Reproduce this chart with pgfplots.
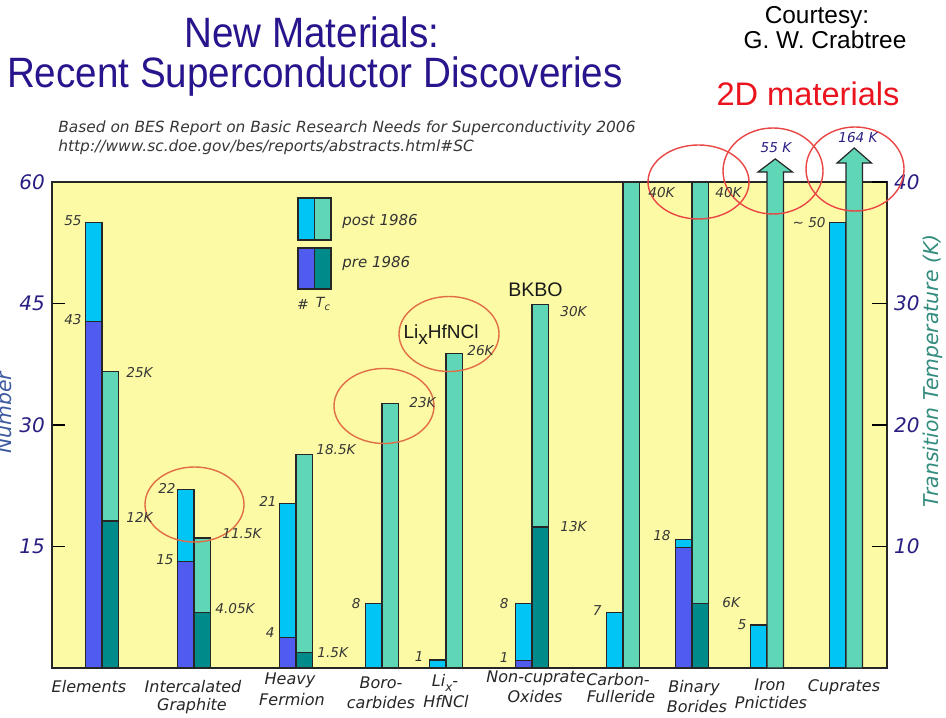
\documentclass[border=0pt]{standalone}
\usepackage{fontspec}
\setmainfont{Liberation Sans}
\newfontfamily\cs{DejaVu Sans}
\usepackage{graphicx}
\usepackage{pgfplots}
\pgfplotsset{compat=1.18}
\definecolor{numPost}{RGB}{0,197,245}
\definecolor{numPre}{RGB}{80,92,240}
\definecolor{tcPost}{RGB}{95,214,182}
\definecolor{tcPre}{RGB}{0,138,138}
\definecolor{bgY}{RGB}{252,250,165}
\definecolor{navy}{RGB}{40,30,130}
\definecolor{titleNavy}{RGB}{40,20,140}
\definecolor{labGray}{RGB}{55,55,55}
\definecolor{teal2}{RGB}{50,140,125}
\definecolor{blueLab}{RGB}{60,90,160}
\definecolor{ellO}{RGB}{225,110,70}
\definecolor{ellR}{RGB}{235,70,70}
\definecolor{redT}{RGB}{235,20,30}
\tikzset{
 bl/.style={font=\cs\itshape\fontsize{6.8}{7}\selectfont, text=labGray, inner sep=0pt},
 cat/.style={font=\cs\itshape\fontsize{8}{9}\selectfont, text=black!85, inner sep=0pt},
 ell/.style={line width=0.7pt},
 leg/.style={draw=black!85, line width=0.6pt},
}
\pgfplotsset{
 barN/.style={ybar, bar width=16.5, bar shift=0pt, draw=black!85, line width=0.6pt},
 common/.style={at={(26pt,24.5pt)}, anchor=south west, scale only axis,
   width=417.5pt, height=243pt, xmin=52, xmax=887, clip=false,
   tick align=inside, tick style={black, line width=0.7pt},
   yticklabel style={font=\cs\itshape\fontsize{10}{12}\selectfont, text=navy},
   /pgf/number format/assume math mode=true},
}
\begin{document}
\begin{tikzpicture}[x=0.5pt,y=0.5pt]
\useasboundingbox (0,0) rectangle (946,717);
\fill[white] (0,0) rectangle (946,717);
% ---- left axis: number of superconductors
\begin{axis}[common, ymin=0, ymax=60, xtick=\empty, ytick={15,30,45,60}, ytick pos=left,
 major tick length=6.5pt,
 axis background/.style={fill=bgY}, axis line style={black!85, line width=0.7pt}]
\addplot[barN, fill=numPost] coordinates {(93.75,55) (185.75,22) (287.75,20.3) (373.75,8) (437.75,1) (523.75,8) (614.75,6.9) (683.75,15.9) (758.75,5.3) (837.75,55)};
\addplot[barN, fill=numPre] coordinates {(93.75,42.8) (185.75,13.1) (287.75,3.8) (523.75,0.9) (683.75,14.9)};
\end{axis}
% ---- right axis: transition temperature
\begin{axis}[common, ymin=0, ymax=40, axis x line=none, axis y line*=right, ytick={10,20,30,40},
 major tick length=7.5pt, axis line style={draw=none}]
\addplot[barN, fill=tcPost] coordinates {(110.25,24.4) (202.25,10.7) (304.25,17.6) (390.25,21.8) (454.25,25.9) (540.25,29.9) (631.25,40) (700.25,40)};
\addplot[barN, fill=tcPre] coordinates {(110.25,12.1) (202.25,4.6) (304.25,1.3) (540.25,11.6) (700.25,5.3)};
\addplot[fill=tcPost, draw=black!85, line width=0.6pt] coordinates {(767,0) (767,40.82) (758,40.82) (775.25,41.9) (792.5,40.82) (783.5,40.82) (783.5,0)} -- cycle;
\addplot[fill=tcPost, draw=black!85, line width=0.6pt] coordinates {(846,0) (846,41.56) (837,41.56) (854.25,42.8) (871.5,41.56) (862.5,41.56) (862.5,0)} -- cycle;
\end{axis}
% ---- annotations in pixel coordinates (y downward)
\begin{scope}[shift={(0,717)}, yscale=-1]
% ellipses
\draw[ellO, ell] (194.5,504.5) ellipse [x radius=49.5, y radius=37.5];
\draw[ellO, ell] (384,406) ellipse [x radius=50, y radius=37.5];
\draw[ellO, ell] (449,334) ellipse [x radius=50, y radius=37.5];
\draw[ellR, ell] (698.5,182) ellipse [x radius=50.5, y radius=37];
\draw[ellR, ell] (773,171) ellipse [x radius=50, y radius=43];
\draw[ellR, ell] (855,169) ellipse [x radius=49, y radius=42];
% titles
\node[anchor=base, text=titleNavy, inner sep=0pt, font=\fontsize{19.3}{22}\selectfont] at (312,48) {\scalebox{1}[1.1]{New Materials:}};
\node[anchor=base, text=titleNavy, inner sep=0pt, font=\fontsize{19.3}{22}\selectfont] at (315,88) {\scalebox{1}[1.1]{Recent Superconductor Discoveries}};
\node[anchor=base, inner sep=0pt, font=\fontsize{12.2}{14}\selectfont] at (817,24) {Courtesy:};
\node[anchor=base, inner sep=0pt, font=\fontsize{12.2}{14}\selectfont] at (825,49) {G. W. Crabtree};
\node[anchor=base, inner sep=0pt, text=redT, font=\fontsize{16.3}{18}\selectfont] at (808,106) {2D materials};
\node[anchor=base west, inner sep=0pt, text=labGray, font=\cs\itshape\fontsize{7.7}{9}\selectfont] at (58,133) {Based on BES Report on Basic Research Needs for Superconductivity 2006};
\node[anchor=base west, inner sep=0pt, text=labGray, font=\cs\itshape\fontsize{7.7}{9}\selectfont] at (58,152) {http://www.sc.doe.gov/bes/reports/abstracts.html\#SC};
% axis titles
\node[rotate=90, anchor=south, inner sep=0pt, text=blueLab, font=\cs\itshape\fontsize{10.2}{12}\selectfont] at (12,413) {Number};
\node[rotate=90, inner sep=0pt, text=teal2, font=\cs\itshape\fontsize{10.2}{12}\selectfont] at (933,371) {Transition Temperature (K)};
% legend
\draw[leg, fill=numPost] (298,198) rectangle (314.5,240);
\draw[leg, fill=tcPost] (314.5,198) rectangle (331,240);
\draw[leg, fill=numPre] (298,248) rectangle (314.5,289);
\draw[leg, fill=tcPre] (314.5,248) rectangle (331,289);
\node[anchor=west, inner sep=0pt, text=black!80, font=\cs\itshape\fontsize{7.5}{9}\selectfont] at (342,222) {post 1986};
\node[anchor=west, inner sep=0pt, text=black!80, font=\cs\itshape\fontsize{7.5}{9}\selectfont] at (342,263) {pre 1986};
\node[inner sep=0pt, text=black!80, font=\cs\itshape\fontsize{7}{8}\selectfont] at (303,304) {\#};
\node[inner sep=0pt, text=black!80, font=\cs\itshape\fontsize{7}{8}\selectfont] at (323,304) {T\raisebox{-0.4ex}{\fontsize{5}{6}\selectfont c}};
% compound labels
\node[anchor=base, inner sep=0pt, text=black!90, font=\fontsize{9.8}{11}\selectfont] at (535.5,297) {BKBO};
\node[anchor=base, inner sep=0pt, text=black!90, font=\fontsize{9.5}{11}\selectfont] at (441,339) {Li\raisebox{-0.5ex}{x}HfNCl};
% number labels
\node[bl, anchor=east] at (82,221) {55};
\node[bl, anchor=east] at (82,320) {43};
\node[bl, anchor=east] at (176,488) {22};
\node[bl, anchor=east] at (174,560) {15};
\node[bl, anchor=east] at (277,501) {21};
\node[bl, anchor=east] at (275,633) {4};
\node[bl, anchor=east] at (361,604) {8};
\node[bl, anchor=east] at (424,657) {1};
\node[bl, anchor=east] at (509,604) {8};
\node[bl, anchor=east] at (509,658) {1};
\node[bl, anchor=east] at (602,611) {7};
\node[bl, anchor=east] at (671,536) {18};
\node[bl, anchor=east] at (747,625) {5};
\node[bl, anchor=east] at (826,223) {\textasciitilde\ 50};
% Tc labels
\node[bl, anchor=west] at (126,373) {25K};
\node[bl, anchor=west] at (126,517) {12K};
\node[bl, anchor=west] at (222,534) {11.5K};
\node[bl, anchor=west] at (215,609) {4.05K};
\node[bl, anchor=west] at (316,450) {18.5K};
\node[bl, anchor=west] at (317,653) {1.5K};
\node[bl, anchor=west] at (409,403) {23K};
\node[bl, anchor=west] at (467,351) {26K};
\node[bl, anchor=west] at (560,312) {30K};
\node[bl, anchor=west] at (560,527) {13K};
\node[bl, anchor=west] at (648,193) {40K};
\node[bl, anchor=west] at (715,193) {40K};
\node[bl, anchor=west] at (722,603) {6K};
\node[bl, text=navy] at (776,148) {55 K};
\node[bl, text=navy] at (858,138) {164 K};
% category labels
\node[cat] at (89,687) {Elements};
\node[cat] at (193,687) {Intercalated};
\node[cat] at (192,706) {Graphite};
\node[cat] at (290,680) {Heavy};
\node[cat] at (292,700) {Fermion};
\node[cat] at (381,683) {Boro-};
\node[cat] at (381,703) {carbides};
\node[cat] at (445,683) {Li\raisebox{-0.5ex}{\fontsize{6}{7}\selectfont x}-};
\node[cat] at (446,702) {HfNCl};
\node[cat] at (536,678) {Non-cuprate};
\node[cat] at (535,697) {Oxides};
\node[cat] at (618,680) {Carbon-};
\node[cat] at (621,697) {Fulleride};
\node[cat] at (694,688) {Binary};
\node[cat] at (697,707) {Borides};
\node[cat] at (770,685) {Iron};
\node[cat] at (771,703) {Pnictides};
\node[cat] at (844,687) {Cuprates};
\end{scope}
\end{tikzpicture}
\end{document}
